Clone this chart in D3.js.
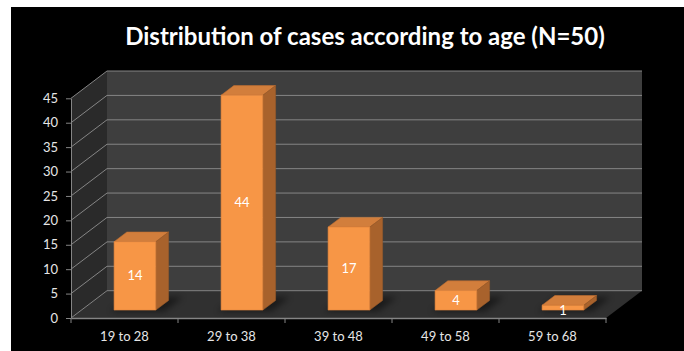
<!DOCTYPE html>
<html>
<head>
<meta charset="utf-8">
<script src="https://cdn.jsdelivr.net/npm/d3@7"></script>
<style>
  html, body { margin: 0; padding: 0; background: #fff; }
  svg { display: block; }
</style>
</head>
<body>
<div id="chart"></div>
<script>
const categories = ['19 to 28', '29 to 38', '39 to 48', '49 to 58', '59 to 68'];
const cases = [14, 44, 17, 4, 1];
const yTicks = [0, 5, 10, 15, 20, 25, 30, 35, 40, 45];
const title = 'Distribution of cases according to age (N=50)';

const width = 684;
const height = 351;

// depth vector of the 3d box, and where the bars sit in it
const DX = 36, DY = -27.3;
const d0 = 0.29, d1 = 0.645;

const svg = d3.select('#chart')
    .append('svg')
    .attr('width', width)
    .attr('height', height);

const defs = svg.append('defs');
defs.append('filter')
    .attr('id', 'blur')
    .attr('x', '-50%').attr('y', '-50%').attr('width', '200%').attr('height', '200%')
    .append('feGaussianBlur')
    .attr('stdDeviation', 3);

svg.append('rect')
    .attr('x', 11).attr('y', 7)
    .attr('width', width - 11).attr('height', height - 7)
    .attr('fill', '#000');

svg.append('text')
    .attr('x', 365)
    .attr('y', 45)
    .attr('text-anchor', 'middle')
    .attr('fill', '#fff')
    .style('font-family', 'Lato, "Open Sans", sans-serif')
    .style('font-weight', 'bold')
    .style('font-size', '24px')
    .text(title);

const y = d3.scaleLinear().domain([0, 45]).range([318, 98.3]);
const xCat = d3.scaleBand().domain(categories).range([71, 606]);
const x = d3.scaleBand().domain(categories).range([71, 606])
    .paddingInner(0.61).paddingOuter(0.305);

const P = (px, py, d) => [px + d * DX, py + d * DY];
const poly = pts => pts.map(p => p.join(',')).join(' ');

const x0 = xCat.range()[0], x1 = xCat.range()[1];
const yTop = y(45), yBot = y(0);

// walls and floor
svg.append('polygon')
    .attr('points', poly([P(x0, yTop, 1), P(x1, yTop, 1), P(x1, yBot, 1), P(x0, yBot, 1)]))
    .attr('fill', '#3e3e3e');
svg.append('polygon')
    .attr('points', poly([P(x0, yTop, 0), P(x0, yTop, 1), P(x0, yBot, 1), P(x0, yBot, 0)]))
    .attr('fill', '#2a2a2a');
svg.append('polygon')
    .attr('points', poly([P(x0, yBot, 0), P(x1, yBot, 0), P(x1, yBot, 1), P(x0, yBot, 1)]))
    .attr('fill', '#303030');

// gridlines on back wall
svg.selectAll('.grid')
    .data(yTicks)
    .enter()
    .append('line')
    .attr('class', 'grid')
    .attr('x1', P(x0, y(0), 1)[0])
    .attr('x2', P(x1, y(0), 1)[0])
    .attr('y1', d => P(x0, y(d), 1)[1])
    .attr('y2', d => P(x0, y(d), 1)[1])
    .attr('stroke', '#858585')
    .attr('stroke-width', 1);

// diagonals on left wall
svg.selectAll('.diag')
    .data(yTicks)
    .enter()
    .append('line')
    .attr('class', 'diag')
    .attr('x1', x0)
    .attr('y1', d => y(d))
    .attr('x2', P(x0, 0, 1)[0])
    .attr('y2', d => P(x0, y(d), 1)[1])
    .attr('stroke', '#858585')
    .attr('stroke-width', 1);

// y axis
const yAxis = svg.append('g')
    .attr('transform', `translate(${x0},0)`)
    .call(d3.axisLeft(y).tickValues(yTicks).tickSize(5).tickSizeOuter(0).tickPadding(8));
yAxis.select('.domain').attr('stroke', '#858585');
yAxis.selectAll('.tick line').attr('stroke', '#858585');
yAxis.selectAll('.tick text')
    .attr('fill', '#e6e6e6')
    .style('font-family', 'Lato, "Open Sans", sans-serif')
    .style('font-size', '13px');

// bar shadows on floor
svg.selectAll('.shadow')
    .data(categories)
    .enter()
    .append('polygon')
    .attr('class', 'shadow')
    .attr('points', c => {
        const l = x(c) - 2, r = x(c) + x.bandwidth() + 10;
        return poly([P(l, yBot, d0 - 0.05), P(r, yBot, d0 - 0.05), P(r, yBot, d1 + 0.12), P(l, yBot, d1 + 0.12)]);
    })
    .attr('fill', '#000')
    .attr('opacity', 0.45)
    .attr('filter', 'url(#blur)');

// bars
const bars = svg.selectAll('.bar')
    .data(categories.map((c, i) => ({c, v: cases[i]})))
    .enter()
    .append('g')
    .attr('class', 'bar');

bars.append('polygon')
    .attr('points', d => {
        const l = x(d.c), r = l + x.bandwidth(), t = y(d.v);
        return poly([P(l, t, d0), P(r, t, d0), P(r, t, d1), P(l, t, d1)]);
    })
    .attr('fill', '#d27e3c')
    .attr('stroke', '#c06f30')
    .attr('stroke-width', 0.6);

bars.append('polygon')
    .attr('points', d => {
        const r = x(d.c) + x.bandwidth(), t = y(d.v);
        return poly([P(r, t, d0), P(r, yBot, d0), P(r, yBot, d1), P(r, t, d1)]);
    })
    .attr('fill', '#a8622c')
    .attr('stroke', '#9a5a28')
    .attr('stroke-width', 0.6);

bars.append('polygon')
    .attr('points', d => {
        const l = x(d.c), r = l + x.bandwidth(), t = y(d.v);
        return poly([P(l, t, d0), P(r, t, d0), P(r, yBot, d0), P(l, yBot, d0)]);
    })
    .attr('fill', '#f79646')
    .attr('stroke', '#e0843c')
    .attr('stroke-width', 0.6);

bars.append('text')
    .attr('x', d => P(x(d.c) + x.bandwidth() / 2, 0, d0)[0])
    .attr('y', d => P(0, (y(d.v) + yBot) / 2, d0)[1])
    .attr('dy', d => d.v < 3 ? '0.6em' : '0.35em')
    .attr('text-anchor', 'middle')
    .attr('fill', '#fff')
    .style('font-family', 'Lato, "Open Sans", sans-serif')
    .style('font-size', '13px')
    .text(d => d.v);

// floor front edge and bottom axis
const xAxis = svg.append('g')
    .attr('transform', `translate(0,${yBot})`)
    .call(d3.axisBottom(xCat).tickSize(0).tickPadding(14));
xAxis.select('.domain').attr('stroke', '#858585').attr('stroke-width', 1.5);
xAxis.selectAll('.tick text')
    .attr('fill', '#e6e6e6')
    .style('font-family', 'Lato, "Open Sans", sans-serif')
    .style('font-size', '13px');

svg.selectAll('.xtick')
    .data(categories.map(c => xCat(c)).concat([x1]))
    .enter()
    .append('line')
    .attr('class', 'xtick')
    .attr('x1', d => d).attr('x2', d => d)
    .attr('y1', yBot).attr('y2', yBot + 5)
    .attr('stroke', '#858585');
</script>
</body>
</html>
